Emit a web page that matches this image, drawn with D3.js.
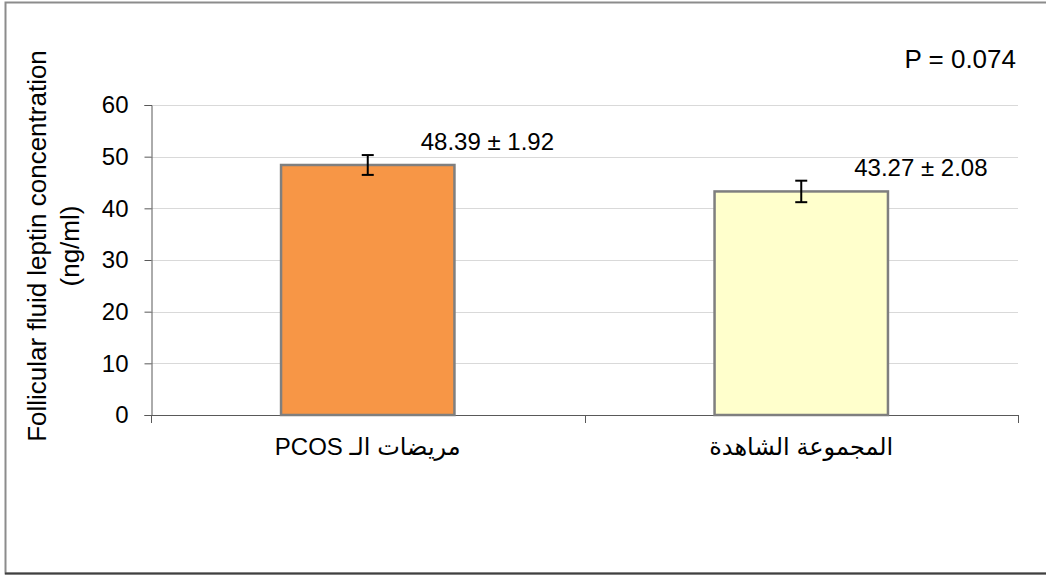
<!DOCTYPE html>
<html>
<head>
<meta charset="utf-8">
<script src="https://cdn.jsdelivr.net/npm/d3@7"></script>
<style>
  html, body { margin: 0; padding: 0; background: #fff; }
  svg { display: block; }
  text { font-family: "Liberation Sans", Arial, "DejaVu Sans", sans-serif; fill: #000; }
</style>
</head>
<body>
<svg id="chart" width="1046" height="576"></svg>
<script>
// Follicular fluid leptin, mean ± SE per group
const categories = ["مريضات الـ PCOS", "المجموعة الشاهدة"];
const means = [48.39, 43.27];
const errors = [1.92, 2.08];
const valueLabels = ["48.39 ± 1.92", "43.27 ± 2.08"];
const fills = ["#F79646", "#FFFFCC"];
const yTicks = [0, 10, 20, 30, 40, 50, 60];
const yTitle = ["Follicular fluid leptin concentration", "(ng/ml)"];
const pText = "P = 0.074";

const svg = d3.select("#chart");
const W = 1046, H = 576;
const plot = { left: 151, right: 1018, top: 105, bottom: 415 };

// frame
svg.append("rect")
  .attr("x", 5.5).attr("y", 2.5).attr("width", W).attr("height", 571)
  .attr("fill", "#fff").attr("stroke", "#8c8c8c").attr("stroke-width", 2);
svg.append("line")
  .attr("x1", 5).attr("x2", W).attr("y1", 573.5).attr("y2", 573.5)
  .attr("stroke", "#404040").attr("stroke-width", 2);

const x = d3.scaleBand().domain(categories)
  .range([plot.left, plot.right]).paddingInner(0.6).paddingOuter(0.3);
const y = d3.scaleLinear().domain([0, 60]).range([plot.bottom, plot.top]);

// gridlines
svg.append("g").selectAll("line").data(yTicks.filter(d => d > 0)).join("line")
  .attr("x1", plot.left).attr("x2", plot.right)
  .attr("y1", d => Math.round(y(d)) + 0.5).attr("y2", d => Math.round(y(d)) + 0.5)
  .attr("stroke", "#d9d9d9").attr("stroke-width", 1);

// y axis
const yAxis = svg.append("g").attr("transform", `translate(${plot.left + 0.5},0)`)
  .call(d3.axisLeft(y).tickValues(yTicks).tickSize(7).tickPadding(16));
yAxis.select(".domain").attr("stroke", "#595959");
yAxis.selectAll(".tick line").attr("stroke", "#595959");
yAxis.selectAll(".tick text")
  .attr("font-size", 24).attr("fill", "#000")
  .attr("font-family", "'Liberation Sans', Arial, sans-serif");

// x axis with boundary ticks between categories
const xBase = svg.append("g");
xBase.append("line")
  .attr("x1", plot.left).attr("x2", plot.right)
  .attr("y1", plot.bottom + 0.5).attr("y2", plot.bottom + 0.5)
  .attr("stroke", "#595959");
const bounds = [plot.left, x(categories[1]) - x.step() * x.paddingInner() / 2, plot.right];
xBase.selectAll("line.tk").data(bounds).join("line").attr("class", "tk")
  .attr("x1", d => Math.round(d) + 0.5).attr("x2", d => Math.round(d) + 0.5)
  .attr("y1", plot.bottom).attr("y2", plot.bottom + 8)
  .attr("stroke", "#595959");

// bars
svg.append("g").selectAll("rect").data(categories).join("rect")
  .attr("x", d => x(d)).attr("width", x.bandwidth())
  .attr("y", (d, i) => y(means[i]))
  .attr("height", (d, i) => y(0) - y(means[i]))
  .attr("fill", (d, i) => fills[i])
  .attr("stroke", "#7f7f7f").attr("stroke-width", 2.5);

// error bars
const eb = svg.append("g").attr("stroke", "#000").attr("stroke-width", 2);
categories.forEach((c, i) => {
  const cx = x(c) + x.bandwidth() / 2;
  const y1 = y(means[i] + errors[i]), y0 = y(means[i] - errors[i]);
  eb.append("line").attr("x1", cx).attr("x2", cx).attr("y1", y1).attr("y2", y0);
  eb.append("line").attr("x1", cx - 6).attr("x2", cx + 6).attr("y1", y1).attr("y2", y1);
  eb.append("line").attr("x1", cx - 6).attr("x2", cx + 6).attr("y1", y0).attr("y2", y0);
});

// value labels
svg.append("g").selectAll("text").data(categories).join("text")
  .attr("x", (d, i) => x(d) + x.bandwidth() / 2 + 53)
  .attr("y", (d, i) => y(means[i]) - 15)
  .attr("font-size", 24)
  .text((d, i) => valueLabels[i]);

// category labels
svg.append("g").selectAll("text").data(categories).join("text")
  .attr("x", d => x(d) + x.bandwidth() / 2)
  .attr("y", 455)
  .attr("text-anchor", "middle")
  .attr("direction", "rtl")
  .attr("font-size", 24)
  .text(d => d);

// y title
const yt = svg.append("text")
  .attr("transform", "translate(46,246) rotate(-90)")
  .attr("text-anchor", "middle")
  .attr("font-size", 26);
yt.selectAll("tspan").data(yTitle).join("tspan")
  .attr("x", 0).attr("dy", (d, i) => i === 0 ? 0 : 33)
  .text(d => d);

// p-value
svg.append("text")
  .attr("x", 1016).attr("y", 68)
  .attr("text-anchor", "end")
  .attr("font-size", 26)
  .text(pText);
</script>
</body>
</html>
